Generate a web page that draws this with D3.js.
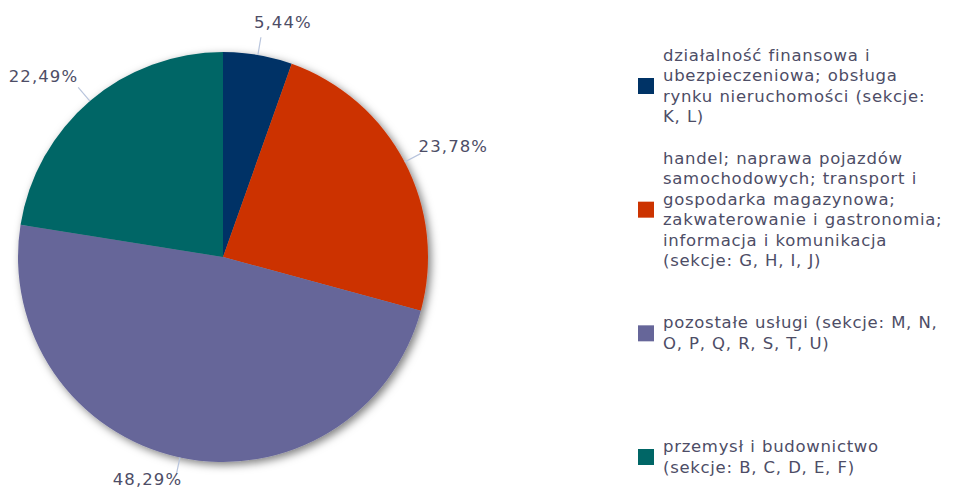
<!DOCTYPE html>
<html><head><meta charset="utf-8">
<script src="https://cdn.jsdelivr.net/npm/d3@7"></script>
<style>
html,body{margin:0;padding:0;background:#fff;}
svg{display:block;font-family:"DejaVu Sans",Verdana,sans-serif;}
</style></head>
<body>
<script>
const categories = [
  "działalność finansowa i ubezpieczeniowa; obsługa rynku nieruchomości (sekcje: K, L)",
  "handel; naprawa pojazdów samochodowych; transport i gospodarka magazynowa; zakwaterowanie i gastronomia; informacja i komunikacja (sekcje: G, H, I, J)",
  "pozostałe usługi (sekcje: M, N, O, P, Q, R, S, T, U)",
  "przemysł i budownictwo (sekcje: B, C, D, E, F)"
];
const legendLines = [
  ["działalność finansowa i","ubezpieczeniowa; obsługa","rynku nieruchomości (sekcje:","K, L)"],
  ["handel; naprawa pojazdów","samochodowych; transport i","gospodarka magazynowa;","zakwaterowanie i gastronomia;","informacja i komunikacja","(sekcje: G, H, I, J)"],
  ["pozostałe usługi (sekcje: M, N,","O, P, Q, R, S, T, U)"],
  ["przemysł i budownictwo","(sekcje: B, C, D, E, F)"]
];
const values = [5.44, 23.78, 48.29, 22.49];
const labels = ["5,44%", "23,78%", "48,29%", "22,49%"];
const colors = ["#003366", "#cc3300", "#666699", "#006666"];

const W = 968, H = 493;
const svg = d3.select("body").append("svg").attr("width", W).attr("height", H);
const defs = svg.append("defs");
const f = defs.append("filter").attr("id","sh").attr("x","-10%").attr("y","-10%").attr("width","120%").attr("height","120%");
f.append("feDropShadow").attr("dx",3).attr("dy",3).attr("stdDeviation",4).attr("flood-color","#000").attr("flood-opacity",0.5);

const cx = 223, cy = 257, r = 205;
const pie = d3.pie().sort(null).value(d => d);
const arcs = pie(values);
const arc = d3.arc().innerRadius(0).outerRadius(r);
const g = svg.append("g").attr("transform", `translate(${cx},${cy})`);
g.append("g").attr("filter","url(#sh)").selectAll("path").data(arcs).join("path")
  .attr("d", arc).attr("fill", (d,i) => colors[i]);

// labels
const lblG = g.append("g");
arcs.forEach((d,i) => {
  const a = (d.startAngle + d.endAngle)/2;
  const s = Math.sin(a), c = Math.cos(a);
  const p1 = [s*r, -c*r], p2 = [s*(r+18), -c*(r+18)];
  lblG.append("line").attr("x1",p1[0]).attr("y1",p1[1]).attr("x2",p2[0]).attr("y2",p2[1])
    .attr("stroke","#b8c4dc").attr("stroke-width",1.2);
  const right = s >= 0;
  let dx = right ? (s < 0.5 ? -7 : -2) : (s > -0.5 ? 6 : 0);
  const dy = 4 - 13*c;
  const y = Math.min(p2[1]+dy, H - cy - 8);
  lblG.append("text").attr("x", p2[0]+dx).attr("y", y)
    .attr("text-anchor", right ? "start" : "end")
    .attr("font-size", 16.5).attr("letter-spacing", 1.1).attr("fill", "#4d4d66").text(labels[i]);
});

// legend
const lh = 20.5;
const ly = d3.scalePoint().domain(d3.range(categories.length)).range([86, 457]);
const lg = svg.append("g");
categories.forEach((cat,i) => {
  const yc = ly(i);
  lg.append("rect").attr("x",638).attr("y",yc-8).attr("width",16).attr("height",16).attr("fill",colors[i]);
  const lines = legendLines[i];
  const top = yc - lines.length*lh/2;
  const t = lg.append("text").attr("font-size",16.5).attr("letter-spacing",0.7).attr("word-spacing",0.5).attr("fill","#4d4d66");
  lines.forEach((ln,j) => {
    t.append("tspan").attr("x",663).attr("y", top + j*lh + 15.5).text(ln);
  });
});
</script>
</body></html>
